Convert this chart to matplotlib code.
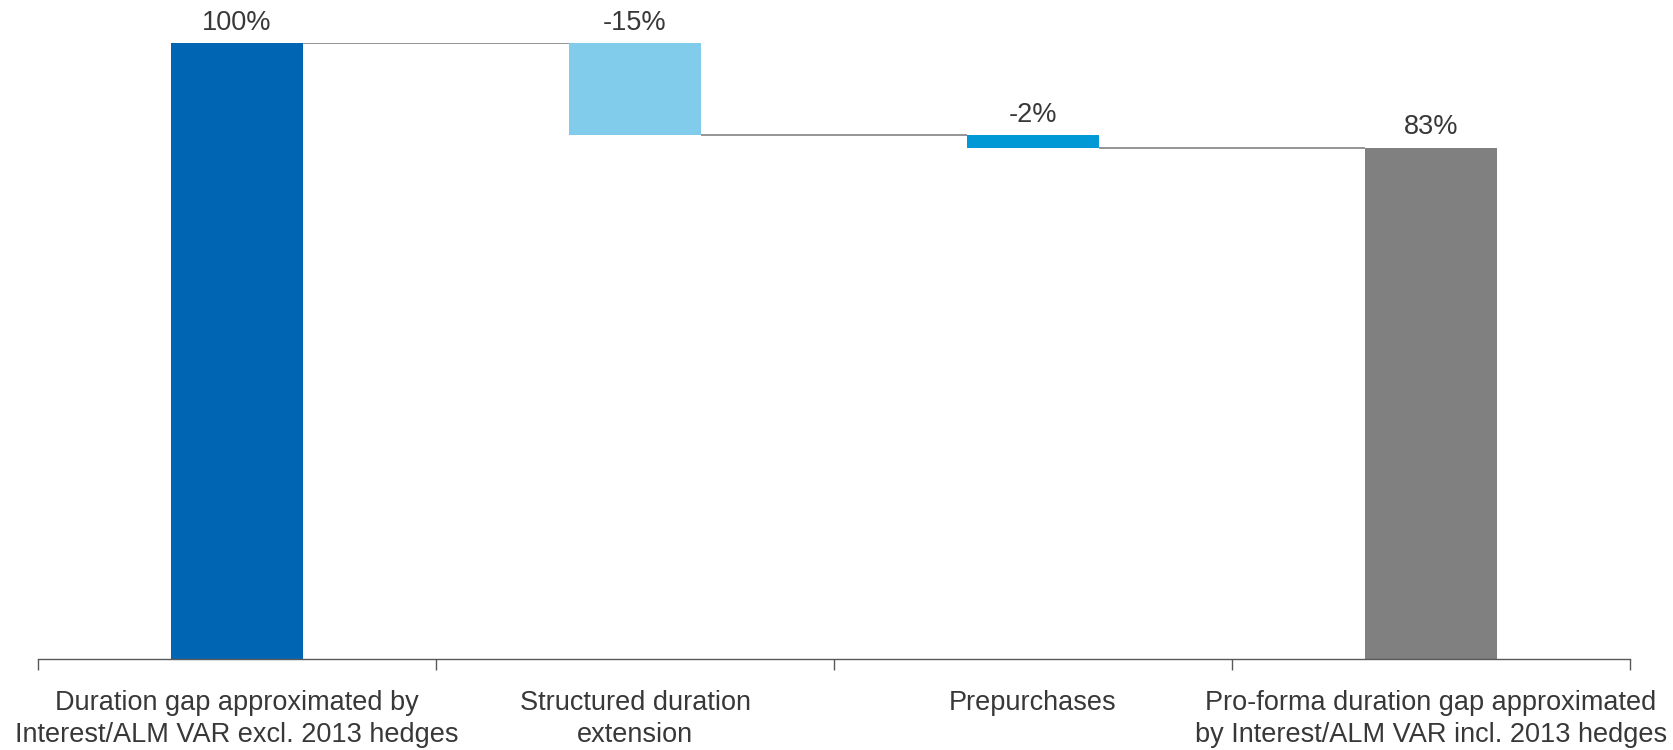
import matplotlib
matplotlib.use("Agg")
import matplotlib.pyplot as plt

plt.rcParams['font.family'] = ['Liberation Sans', 'DejaVu Sans']

categories = [
    "Duration gap approximated by\nInterest/ALM VAR excl. 2013 hedges",
    "Structured duration\nextension",
    "Prepurchases",
    "Pro-forma duration gap approximated\nby Interest/ALM VAR incl. 2013 hedges",
]
values = [100, -15, -2, 83]
is_total = [True, False, False, True]
value_labels = ["100%", "-15%", "-2%", "83%"]
colors = ["#0066B3", "#82CCEB", "#0099D6", "#808080"]

text_color = "#383838"

fig = plt.figure(figsize=(16.73, 7.5), dpi=100)
ax = fig.add_axes([38 / 1673, 1 - 659 / 750, (1630 - 38) / 1673, 616 / 750])

bar_width = 0.33
running = 0
for i, (v, tot) in enumerate(zip(values, is_total)):
    if tot:
        bottom, top = 0, v
        running = v
    else:
        start = running
        running = running + v
        bottom, top = min(start, running), max(start, running)
    ax.bar(i, top - bottom, bottom=bottom, width=bar_width, color=colors[i], zorder=2)
    ax.text(i, top + 1.2, value_labels[i], ha="center", va="bottom",
            fontsize=19.5, color=text_color, clip_on=False)

# connector lines between consecutive bars
levels = []
running = 0
for v, tot in zip(values, is_total):
    running = v if tot else running + v
    levels.append(running)
for i in range(len(values) - 1):
    ax.plot([i + bar_width / 2, i + 1 - bar_width / 2], [levels[i], levels[i]],
            color="#8C8C8C", linewidth=1.3, zorder=1, solid_capstyle="butt")

ax.set_xlim(-0.5, len(values) - 0.5)
ax.set_ylim(0, 100)
ax.set_yticks([])
for side in ["top", "right", "left"]:
    ax.spines[side].set_visible(False)
ax.spines["bottom"].set_color("#595959")
ax.spines["bottom"].set_linewidth(1.0)

ax.set_xticks(range(len(categories)))
ax.set_xticklabels(categories, fontsize=19.5, color=text_color, linespacing=1.3)
ax.tick_params(axis="x", which="major", length=0, pad=22)
ax.set_xticks([i - 0.5 for i in range(len(categories) + 1)], minor=True)
ax.tick_params(axis="x", which="minor", length=8, width=1.0, color="#595959")

fig.savefig("out.png", dpi=100)
